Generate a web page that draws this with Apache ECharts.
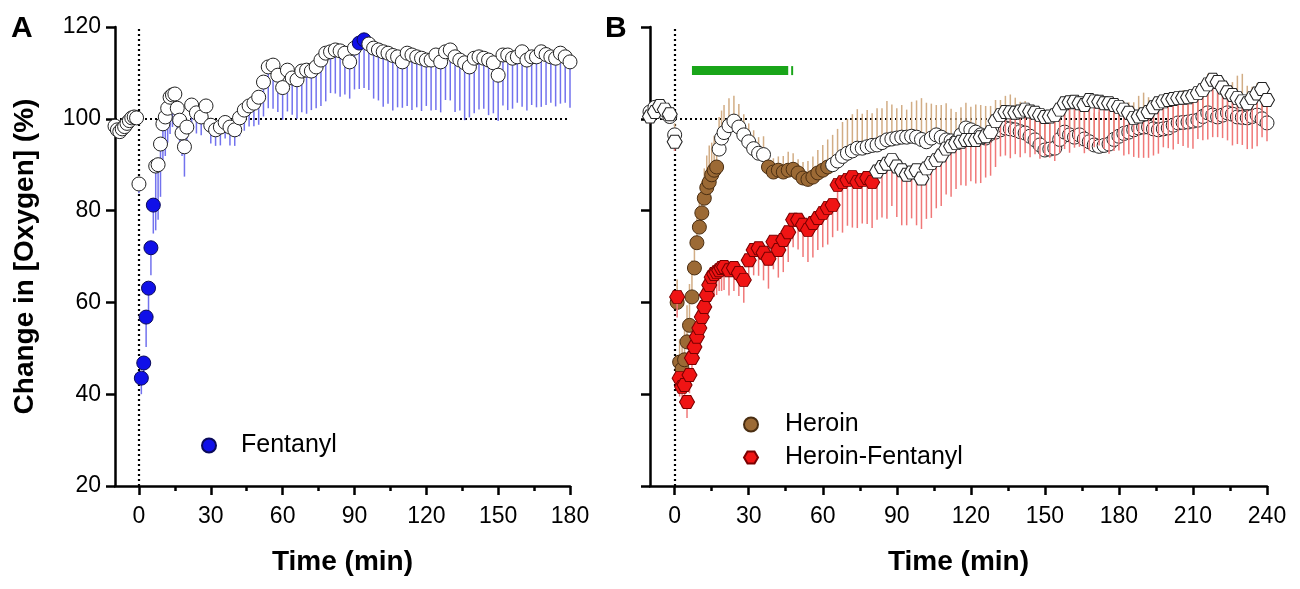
<!DOCTYPE html>
<html>
<head>
<meta charset="utf-8">
<script src="https://cdn.jsdelivr.net/npm/echarts@6/dist/echarts.min.js"></script>
<style>
  html, body { margin: 0; padding: 0; background: #fff; }
  #chart { width: 1300px; height: 589px; }
</style>
</head>
<body>
<div id="chart"></div>
<script>
// ---- panel A : fentanyl ----
var fenTime = [-10, -9, -8, -7, -6, -5, -4, -3, -2, -1, 0,
    1, 2, 3, 4, 5, 6, 7, 8, 9, 10, 11, 12, 13, 14, 15, 16, 17, 18, 19, 20,
    22, 24, 26, 28, 30, 32, 34, 36, 38, 40, 42, 44, 46, 48, 50, 52, 54, 56, 58, 60,
    62, 64, 66, 68, 70, 72, 74, 76, 78, 80, 82, 84, 86, 88, 90, 92, 94, 96, 98, 100,
    102, 104, 106, 108, 110, 112, 114, 116, 118, 120, 122, 124, 126, 128, 130, 132, 134, 136, 138, 140,
    142, 144, 146, 148, 150, 152, 154, 156, 158, 160, 162, 164, 166, 168, 170, 172, 174, 176, 178, 180];
var fenMean = [98.4, 97.6, 97.2, 97.8, 98.3, 99.0, 99.6, 100.2, 100.4, 100.2, 85.8,
    43.5, 46.8, 56.8, 63.1, 71.9, 81.2, 89.7, 90.0, 94.5, 98.9, 100.4, 102.3, 104.7, 105.2, 105.4, 102.3, 99.7, 96.9, 93.9, 98.2,
    103.0, 101.3, 100.4, 102.8, 98.6, 97.6, 98.2, 99.2, 98.2, 97.6, 100.2, 101.9, 102.8, 103.4, 104.7, 108.0, 111.3, 111.7, 109.5, 106.8,
    110.6, 108.9, 108.5, 110.4, 110.6, 110.4, 111.3, 112.8, 114.3, 114.6, 115.0, 114.8, 114.3, 112.4, 115.4, 116.5, 117.2, 116.3, 115.4, 115.0,
    114.6, 114.3, 113.8, 113.5, 112.4, 114.3, 113.9, 113.5, 113.2, 112.8, 112.8, 113.9, 112.4, 114.6, 115.0, 113.5, 112.8, 112.2, 111.3, 113.2,
    113.5, 113.2, 112.8, 112.2, 109.5, 113.9, 113.9, 113.2, 113.5, 114.6, 112.8, 113.5, 113.5, 114.6, 114.0, 113.5, 113.2, 114.3, 113.5, 112.4];
var fenSem = [1.5, 1.8, 1.5, 1.5, 1.2, 1.2, 1.0, 1.0, 0.8, 0.8, 2.0,
    3.5, 4.5, 6.5, 5.0, 6.0, 6.2, 14, 12, 11.5, 8, 8.5, 7.5, 8, 7, 6, 6, 5, 5, 6.5, 4.5,
    5, 4.5, 4, 4.5, 4, 3.5, 4, 3.5, 4, 3.5, 4, 4.5, 4.5, 5, 6, 7.5, 9, 9.5, 8, 7,
    9, 8, 8.5, 9, 9.5, 8.5, 9, 10, 10.5, 9, 9.5, 10, 9, 8, 9, 10, 10.5, 10, 11, 11,
    12, 11, 12, 11, 10, 11.5, 12, 11, 11.5, 10, 11, 12, 11, 10.5, 11, 12, 11, 12.5, 11, 12,
    11.5, 11, 12, 11, 10, 11, 12, 11, 10, 12, 11, 10.5, 11, 12, 11, 10, 10.5, 11, 10, 10];
var fenSig = [[1, 6], [92, 94]];

// ---- panel B : heroin and heroin-fentanyl ----
var bTime = [-10, -8, -6, -4, -2, 0,
    1, 2, 3, 4, 5, 6, 7, 8, 9, 10, 11, 12, 13, 14, 15, 16, 17, 18, 19, 20,
    22, 24, 26, 28, 30, 32, 34, 36, 38, 40, 42, 44, 46, 48, 50, 52, 54, 56, 58, 60,
    62, 64, 66, 68, 70, 72, 74, 76, 78, 80, 82, 84, 86, 88, 90, 92, 94, 96, 98, 100,
    102, 104, 106, 108, 110, 112, 114, 116, 118, 120, 122, 124, 126, 128, 130, 132, 134, 136, 138, 140,
    142, 144, 146, 148, 150, 152, 154, 156, 158, 160, 162, 164, 166, 168, 170, 172, 174, 176, 178, 180,
    182, 184, 186, 188, 190, 192, 194, 196, 198, 200, 202, 204, 206, 208, 210, 212, 214, 216, 218, 220,
    222, 224, 226, 228, 230, 232, 234, 236, 238, 240];
var herMean = [101.5, 102.5, 102.0, 101.3, 100.5, 96.5,
    60.0, 47.0, 45.5, 47.5, 51.4, 55.0, 61.2, 67.5, 73.0, 76.4, 79.5, 82.7, 85.0, 86.2, 87.8, 88.8, 89.5, 93.4, 95.8, 97.0,
    98.5, 99.5, 98.2, 96.5, 95.0, 93.5, 92.5, 92.2, 89.5, 88.4, 88.8, 88.4, 88.8, 89.0, 88.2, 87.1, 86.8, 87.3, 88.2, 88.8,
    89.5, 90.0, 90.8, 91.8, 92.5, 93.0, 93.6, 93.6, 93.9, 94.2, 94.3, 94.8, 95.4, 95.6, 95.8, 96.0, 96.0, 96.2, 96.0, 95.5,
    95.0, 95.8, 96.5, 96.0, 95.4, 95.2, 95.0, 96.5, 98.0, 97.6, 97.1, 96.5, 95.8, 96.8, 97.1, 97.6, 98.0, 97.8, 97.6, 97.2,
    96.9, 96.2, 95.4, 94.3, 93.2, 93.4, 93.6, 95.5, 97.1, 96.5, 96.0, 96.5, 95.6, 95.0, 94.3, 94.0, 94.2, 94.5, 95.5, 96.2,
    96.8, 97.1, 97.6, 98.0, 98.2, 98.2, 97.8, 97.6, 97.8, 98.0, 98.6, 99.1, 99.2, 99.3, 99.5, 99.7, 100.5, 101.3, 100.8, 100.4,
    100.8, 101.3, 101.0, 100.4, 100.3, 100.2, 100.5, 100.8, 100.0, 99.1];
var herSem = [1.5, 1.5, 1.5, 1.5, 1.5, 2.5,
    5, 5, 6, 7, 8, 9, 8, 7, 7, 6, 7, 6.5, 7, 8, 7, 7.5, 7, 7, 6, 6,
    6, 5.5, 5, 4.5, 4, 4, 3.5, 4, 3.5, 3, 3, 3.5, 4, 3.5, 3, 3.5, 4, 4.5, 5, 5.5,
    6, 6.5, 7, 7.5, 7.5, 8, 8.5, 7.5, 8, 7, 8, 7.5, 8.5, 7.5, 6.5, 7, 6, 7.5, 8, 9,
    8.5, 7.5, 6.5, 7, 8, 7, 6.5, 6, 5.5, 5, 6, 6.5, 7, 6, 7, 6.5, 7, 7.5, 7, 6.5,
    7, 6, 6.5, 7, 6, 7, 7.5, 6.5, 6, 7, 6.5, 7, 6, 6.5, 7, 7.5, 6, 7, 6.5, 6,
    7, 6.5, 6, 7, 7.5, 6.5, 6, 7, 6.5, 7, 6, 6.5, 7, 6.5, 7, 7.5, 8, 8.5, 7, 6.5,
    7, 6.5, 7, 9, 9.5, 7, 6.5, 7, 8, 7.5];
var herSig = [[1, 17], [38, 62]];

var hfMean = [100.5, 101.5, 102.8, 102.0, 101.0, 95.0,
    61.2, 43.5, 41.6, 42.0, 38.3, 44.2, 47.9, 50.3, 52.5, 54.4, 56.8, 59.0, 61.6, 63.8, 65.5, 66.2, 66.6, 67.0, 67.5, 67.7,
    67.0, 67.5, 66.4, 64.9, 69.2, 71.4, 71.8, 70.8, 69.5, 73.2, 71.4, 73.6, 75.3, 78.0, 78.0, 76.9, 75.8, 77.3, 78.4, 79.5,
    80.6, 81.2, 85.6, 86.2, 86.7, 87.3, 86.2, 86.7, 87.1, 86.2, 88.5, 89.5, 90.2, 91.0, 89.6, 88.8, 87.8, 88.3, 88.8, 87.0,
    89.2, 90.4, 91.0, 92.0, 93.5, 94.0, 94.7, 95.0, 95.4, 95.4, 95.4, 96.0, 96.2, 97.1, 99.5, 100.8, 101.5, 101.4, 101.3, 101.6,
    102.0, 101.6, 101.3, 100.8, 100.4, 100.5, 100.8, 102.0, 103.4, 103.6, 103.7, 103.4, 103.0, 104.1, 103.8, 103.7, 103.4, 103.4, 103.0, 102.6,
    102.0, 101.3, 100.2, 100.5, 101.0, 101.5, 102.5, 103.4, 103.8, 104.1, 104.3, 104.5, 104.6, 104.7, 105.0, 105.6, 106.3, 107.5, 108.5, 108.0,
    106.8, 105.8, 105.2, 104.5, 103.8, 103.4, 104.5, 105.5, 106.5, 104.1];
var hfSem = [1.5, 1.5, 1.5, 1.5, 1.5, 2,
    4.5, 4, 4.5, 4, 3.5, 4, 3.5, 3.5, 3, 3.5, 3, 3.5, 4, 4, 4.5, 5, 5, 4.5, 5, 5,
    5.5, 5, 5, 5, 5, 5.5, 6, 6, 6.5, 6, 6, 7, 6.5, 6, 6.5, 7, 7, 7.5, 7, 7.5,
    8, 7, 10, 11, 10, 11, 10, 9.5, 10, 10, 10.5, 11, 12, 10, 11, 12, 11, 10, 12, 11,
    11, 12, 10.5, 11, 10, 11, 10, 9.5, 10, 9, 9.5, 10, 9, 9.5, 10, 9, 9.5, 10, 9, 10,
    9.5, 10, 9, 9.5, 8.5, 9, 10, 9.5, 10, 11, 10, 9.5, 10.5, 11, 10, 9.5, 10, 11, 10, 9.5,
    10, 9, 8.5, 9, 9.5, 10, 10.5, 11, 10, 10.5, 11, 10, 10.5, 11, 11.5, 10, 11, 12, 12.5, 12,
    11, 10.5, 11, 10, 9.5, 10, 11, 11.5, 10.5, 9];
var hfSig = [[1, 80]];

// green bar above panel B (start, end) at a fixed level
var greenBars = [[7, 46], [47.2, 48]];
var greenLevel = 110.5;

// axis ticks
var ticksA = [0, 30, 60, 90, 120, 150, 180];
var minorA = [15, 45, 75, 105, 135, 165];
var ticksB = [0, 30, 60, 90, 120, 150, 180, 210, 240];
var minorB = [15, 45, 75, 105, 135, 165, 195, 225];

var FONT = '"Liberation Sans", Arial, sans-serif';
var hexPath = 'path://M25,0 L75,0 L100,43.3 L75,86.6 L25,86.6 L0,43.3 Z';

function inSig(t, ranges) {
    for (var i = 0; i < ranges.length; i++) {
        if (t >= ranges[i][0] && t <= ranges[i][1]) return true;
    }
    return false;
}

function points(time, mean, ranges, fill, edge) {
    return time.map(function (t, i) {
        var s = inSig(t, ranges);
        return {
            value: [t, mean[i]],
            itemStyle: { color: s ? fill : '#ffffff', borderColor: s ? edge : '#222' }
        };
    });
}

function errData(time, mean, sem) {
    return time.map(function (t, i) { return [t, mean[i], sem[i]]; });
}

function errRender(dir, color) {
    return function (params, api) {
        var x = api.value(0), y = api.value(1), e = api.value(2);
        var p1 = api.coord([x, y]);
        var p2 = api.coord([x, y + dir * e]);
        return {
            type: 'line',
            shape: { x1: p1[0], y1: p1[1], x2: p2[0], y2: p2[1] },
            style: { stroke: color, lineWidth: 1.5 }
        };
    };
}

var refLines = {
    silent: true,
    z: 0,
    symbol: 'none',
    label: { show: false },
    lineStyle: { color: '#000', type: [2, 3], width: 2.2 },
    data: [{ xAxis: 0 }, { yAxis: 100 }]
};

function xMain(grid, max, ticks) {
    return {
        type: 'value', gridIndex: grid, min: -10, max: max, position: 'bottom',
        name: 'Time (min)', nameLocation: 'middle', nameGap: 62,
        nameTextStyle: { fontFamily: FONT, fontSize: 28, fontWeight: 'bold', color: '#000' },
        axisLine: { onZero: false, lineStyle: { color: '#000', width: 2.5 } },
        axisTick: { customValues: ticks, length: 9, lineStyle: { color: '#000', width: 2.5 } },
        axisLabel: { customValues: ticks, fontFamily: FONT, fontSize: 23, color: '#000', margin: 19 },
        splitLine: { show: false }
    };
}
function xMinor(grid, max, ticks) {
    return {
        type: 'value', gridIndex: grid, min: -10, max: max, position: 'bottom',
        axisLine: { show: false },
        axisTick: { customValues: ticks, length: 5, lineStyle: { color: '#000', width: 2.5 } },
        axisLabel: { show: false },
        splitLine: { show: false }
    };
}
function yAxis(grid, labels) {
    return {
        type: 'value', gridIndex: grid, min: 20, max: 120, interval: 20,
        name: labels ? 'Change in [Oxygen] (%)' : '', nameLocation: 'middle', nameGap: 76,
        nameTextStyle: { fontFamily: FONT, fontSize: 28, fontWeight: 'bold', color: '#000' },
        axisLine: { onZero: false, lineStyle: { color: '#000', width: 2.5 } },
        axisTick: { length: 9, lineStyle: { color: '#000', width: 2.5 } },
        axisLabel: { show: labels, fontFamily: FONT, fontSize: 23, color: '#000', margin: 14 },
        splitLine: { show: false }
    };
}

var chart = echarts.init(document.getElementById('chart'));

var option = {
    backgroundColor: '#fff',
    animation: false,
    grid: [
        { left: 115, top: 27, width: 455, height: 459 },
        { left: 650, top: 27, width: 617, height: 459 }
    ],
    xAxis: [xMain(0, 180, ticksA), xMinor(0, 180, minorA), xMain(1, 240, ticksB), xMinor(1, 240, minorB)],
    yAxis: [yAxis(0, true), yAxis(1, false)],
    legend: [
        {
            left: 196, top: 428, itemWidth: 14, itemHeight: 14,
            data: [{ name: 'Fentanyl', icon: 'circle' }],
            textStyle: { fontFamily: FONT, fontSize: 25, color: '#000', padding: [0, 0, 0, 20] }
        },
        {
            left: 738, top: 407, orient: 'vertical', itemGap: 8, itemWidth: 14, itemHeight: 14,
            data: [{ name: 'Heroin', icon: 'circle' }, { name: 'Heroin-Fentanyl', icon: hexPath }],
            textStyle: { fontFamily: FONT, fontSize: 25, color: '#000', padding: [0, 0, 0, 22] }
        }
    ],
    graphic: [
        { type: 'text', left: 11, top: 14, style: { text: 'A', font: 'bold 30px ' + FONT, fill: '#000' } },
        { type: 'text', left: 605, top: 14, style: { text: 'B', font: 'bold 30px ' + FONT, fill: '#000' } }
    ],
    series: [
        {
            type: 'custom', name: 'fenErr', xAxisIndex: 0, yAxisIndex: 0, z: 1,
            renderItem: errRender(-1, '#7272ee'),
            data: errData(fenTime, fenMean, fenSem),
            encode: { x: 0, y: 1 },
            markLine: refLines
        },
        {
            type: 'scatter', name: 'Fentanyl', xAxisIndex: 0, yAxisIndex: 0, z: 3,
            symbol: 'circle', symbolSize: 14,
            itemStyle: { color: '#1010e8', borderColor: '#0a0a5a', borderWidth: 1, opacity: 1 },
            data: points(fenTime, fenMean, fenSig, '#1010e8', '#0a0a5a')
        },
        {
            type: 'custom', name: 'herErr', xAxisIndex: 2, yAxisIndex: 1, z: 1,
            renderItem: errRender(1, '#d2ad85'),
            data: errData(bTime, herMean, herSem),
            encode: { x: 0, y: 1 },
            markLine: refLines
        },
        {
            type: 'scatter', name: 'Heroin', xAxisIndex: 2, yAxisIndex: 1, z: 3,
            symbol: 'circle', symbolSize: 14,
            itemStyle: { color: '#9c6a35', borderColor: '#4a2e12', borderWidth: 1, opacity: 1 },
            data: points(bTime, herMean, herSig, '#9c6a35', '#4a2e12')
        },
        {
            type: 'custom', name: 'hfErr', xAxisIndex: 2, yAxisIndex: 1, z: 4,
            renderItem: errRender(-1, '#f07878'),
            data: errData(bTime, hfMean, hfSem),
            encode: { x: 0, y: 1 }
        },
        {
            type: 'scatter', name: 'Heroin-Fentanyl', xAxisIndex: 2, yAxisIndex: 1, z: 5,
            symbol: hexPath, symbolSize: [15, 13], symbolKeepAspect: false,
            itemStyle: { color: '#f01414', borderColor: '#7a0000', borderWidth: 1, opacity: 1 },
            data: points(bTime, hfMean, hfSig, '#f01414', '#7a0000')
        },
        {
            type: 'custom', name: 'sigBar', xAxisIndex: 2, yAxisIndex: 1, z: 6,
            renderItem: function (params, api) {
                var a = api.coord([api.value(0), greenLevel]);
                var b = api.coord([api.value(1), greenLevel]);
                return {
                    type: 'rect',
                    shape: { x: a[0], y: a[1] - 4.5, width: b[0] - a[0], height: 9 },
                    style: { fill: '#19a519' }
                };
            },
            data: greenBars,
            encode: { x: [0, 1] }
        }
    ]
};

chart.setOption(option);
</script>
</body>
</html>
